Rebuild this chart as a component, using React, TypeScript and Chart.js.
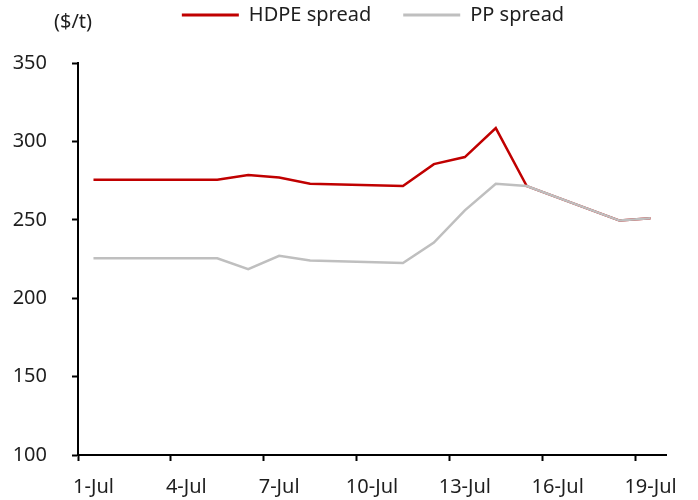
import React, { useEffect, useRef } from "react";
import { Chart, registerables } from "chart.js";

Chart.register(...registerables);

const categories = [
  "1-Jul", "2-Jul", "3-Jul", "4-Jul", "5-Jul", "6-Jul", "7-Jul", "8-Jul", "9-Jul", "10-Jul",
  "11-Jul", "12-Jul", "13-Jul", "14-Jul", "15-Jul", "16-Jul", "17-Jul", "18-Jul", "19-Jul",
];
const hdpeSpread = [
  275.5, null, null, null, 275.5, 278.5, 277, 273, null, null,
  271.5, 285.5, 290, 308.5, 271.5, null, null, 249.5, 251,
];
const ppSpread = [
  225.5, null, null, null, 225.5, 218.5, 227, 224, null, null,
  222.5, 235.5, 256, 273, 271.5, null, null, 249.5, 251,
];
const seriesNames = ["HDPE spread", "PP spread"];
const seriesColors = ["#C00000", "#BFBFBF"];
const yMin = 100;
const yMax = 350;
const yStep = 50;
const labelEvery = 3;
const unitLabel = "($/t)";

const FONT_FAMILY = '"Noto Sans", sans-serif';
const TEXT = "#1e1e1e";
const AXIS = "#000000";

const decorPlugin = {
  id: "decor",
  afterLayout(chart: any) {
    const lg = chart.legend;
    if (lg) {
      lg.top -= 28;
      lg.bottom -= 28;
      lg.left += 40;
      lg.right += 40;
    }
  },
  afterDraw(chart: any) {
    const { ctx, chartArea } = chart;
    ctx.save();
    ctx.font = `20px ${FONT_FAMILY}`;
    ctx.fillStyle = TEXT;
    ctx.textAlign = "center";
    ctx.textBaseline = "middle";
    ctx.fillText(unitLabel, chartArea.left - 5, 22);
    ctx.restore();
  },
};

export default function App() {
  const canvasRef = useRef<HTMLCanvasElement | null>(null);

  useEffect(() => {
    if (!canvasRef.current) return;
    const font = { family: FONT_FAMILY, size: 20 };
    const chart = new Chart(canvasRef.current, {
      type: "line",
      data: {
        labels: categories,
        datasets: [
          {
            label: seriesNames[0],
            data: hdpeSpread,
            borderColor: seriesColors[0],
            backgroundColor: seriesColors[0],
            borderWidth: 2.5,
            pointRadius: 0,
            tension: 0,
            spanGaps: true,
            order: 1,
          },
          {
            label: seriesNames[1],
            data: ppSpread,
            borderColor: seriesColors[1],
            backgroundColor: seriesColors[1],
            borderWidth: 2.5,
            pointRadius: 0,
            tension: 0,
            spanGaps: true,
            order: 0,
          },
        ],
      },
      options: {
        animation: false,
        responsive: false,
        layout: { padding: { left: 0, right: 32, top: 1, bottom: 0 } },
        plugins: {
          legend: {
            position: "top",
            align: "center",
            labels: {
              font,
              color: TEXT,
              boxWidth: 57,
              boxHeight: 3,
              padding: 32,
              sort: (a: any, b: any) => a.datasetIndex - b.datasetIndex,
              generateLabels: (c: any) =>
                Chart.defaults.plugins.legend.labels
                  .generateLabels(c)
                  .map((l: any) => ({ ...l, lineWidth: 0, fillStyle: l.strokeStyle })),
            },
          },
          tooltip: { enabled: false },
        },
        scales: {
          x: {
            type: "category",
            offset: true,
            grid: {
              display: true,
              offset: true,
              drawOnChartArea: false,
              drawTicks: true,
              tickLength: 6,
              tickWidth: 2,
              tickColor: (c: any) =>
                c.index !== undefined && c.index % labelEvery === 0 ? AXIS : "rgba(0,0,0,0)",
            },
            border: { display: true, color: AXIS, width: 2 },
            ticks: {
              autoSkip: false,
              maxRotation: 0,
              minRotation: 0,
              padding: 14,
              font,
              color: TEXT,
              callback: function (this: any, val: any, index: number) {
                return index % labelEvery === 0 ? this.getLabelForValue(val) : "";
              },
            },
            afterFit: (s: any) => {
              s.height = 45;
            },
          },
          y: {
            min: yMin,
            max: yMax,
            ticks: { stepSize: yStep, padding: 25, font, color: TEXT },
            grid: {
              drawOnChartArea: false,
              tickLength: 6,
              tickWidth: 2,
              tickColor: AXIS,
            },
            border: { display: true, color: AXIS, width: 2 },
            afterFit: (s: any) => {
              s.width = 78;
            },
          },
        },
      },
      plugins: [decorPlugin],
    } as any);
    return () => chart.destroy();
  }, []);

  return (
    <div style={{ position: "absolute", left: 0, top: 0, width: 698, height: 500, background: "#fff" }}>
      <canvas ref={canvasRef} width={698} height={500} style={{ display: "block" }} />
    </div>
  );
}
